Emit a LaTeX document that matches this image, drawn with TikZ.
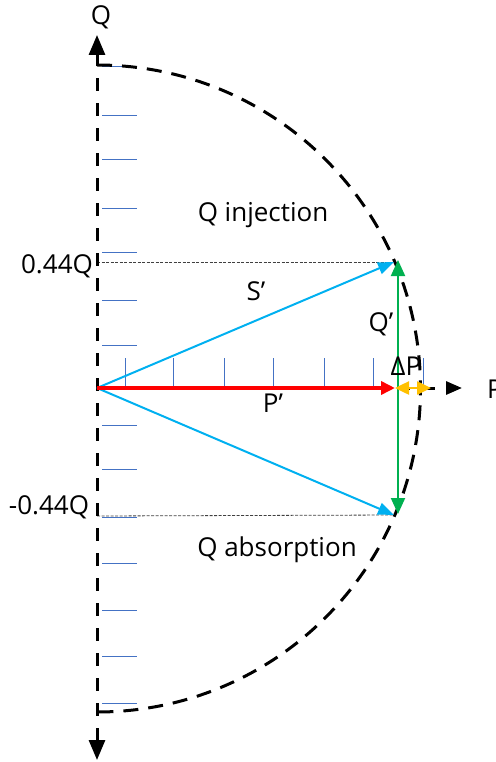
\documentclass[tikz,border=0pt]{standalone}
\usepackage{fontspec}
\setmainfont{Open Sans}
\usetikzlibrary{arrows.meta}
\definecolor{cyanline}{RGB}{0,176,240}
\definecolor{greenline}{RGB}{0,176,80}
\definecolor{orangeline}{RGB}{255,192,0}
\definecolor{tickblue}{RGB}{68,114,196}
\definecolor{redline}{RGB}{255,0,0}
\tikzset{
  qhead/.tip={Triangle[length=20pt,width=16pt]},
  phead/.tip={Triangle[length=16pt,width=13pt]},
  shead/.tip={Triangle[length=16pt,width=12pt]},
  ghead/.tip={Triangle[length=16pt,width=14pt]},
  ohead/.tip={Triangle[length=14pt,width=13pt]}
}
\begin{document}
\begin{tikzpicture}[x=1pt,y=-1pt,
  axisdash/.style={line width=3pt, dash pattern=on 13pt off 12pt},
  arcdash/.style={line width=3pt, dash pattern=on 15pt off 10pt},
  tickline/.style={tickblue, line width=0.9pt},
  guideline/.style={black!75, line width=0.8pt, dash pattern=on 3pt off 1.5pt},
  lbl/.style={font=\fontsize{26}{31}\selectfont, inner sep=0pt}
]
\useasboundingbox (0,0) rectangle (495,762);
% key points
\coordinate (O) at (97,388);
\coordinate (Qtop) at (97,35);
\coordinate (Qbot) at (97,760);
\coordinate (Pend) at (462,388);
\coordinate (Ua) at (394,262);
\coordinate (La) at (394,515);
\coordinate (Gt) at (398,260);
\coordinate (Gb) at (398,514);
\coordinate (Pp) at (395,388);
\coordinate (Dp) at (431,388);
\coordinate (Du) at (97,262);
\coordinate (Dl) at (97,516);
\coordinate (Arctop) at (97,65);
% ticks on Q axis
\foreach \yy in {66,115,159,208,252,300,345,425,469,517,563,610,656,703}
  \draw[tickline] (102,\yy) -- (137,\yy);
% ticks on P axis
\foreach \xx in {125,173,224,273,324,373,423}
  \draw[tickline] (\xx,358) -- (\xx,388);
% guide lines
\draw[guideline] (Du) -- (Ua);
\draw[guideline] (Dl) -- (La);
% axes
\draw[axisdash, qhead-qhead] (Qbot) -- (Qtop);
\draw[axisdash, -phead] (O) -- (Pend);
% semicircle
\draw[arcdash] (Arctop) arc[start angle=-90, end angle=90, radius=323.5];
% vectors
\draw[cyanline, line width=2pt, -shead] (O) -- (Ua);
\draw[cyanline, line width=2pt, -shead] (O) -- (La);
\draw[redline, line width=4pt, -ohead] (O) -- (Pp);
\draw[greenline, line width=2pt, ghead-ghead] (Gb) -- (Gt);
\draw[orangeline, line width=2.5pt, ohead-ohead] (Pp) -- (Dp);
% labels
\node[lbl] (lq) at (101,17) {Q};
\node[lbl, anchor=west] (lp) at (487,389) {P};
\node[lbl] (l44) at (57,266) {0.44Q};
\node[lbl] (lm44) at (49,507) {-0.44Q};
\node[lbl] (linj) at (263,215) {Q injection};
\node[lbl] (labs) at (277,550) {Q absorption};
\node[lbl] (ls) at (256,291) {S’};
\node[lbl] (lqq) at (381,324) {Q’};
\node[lbl] (ldp) at (406,366) {ΔP};
\node[lbl] (lpp) at (273,403) {P’};
\end{tikzpicture}
\end{document}
